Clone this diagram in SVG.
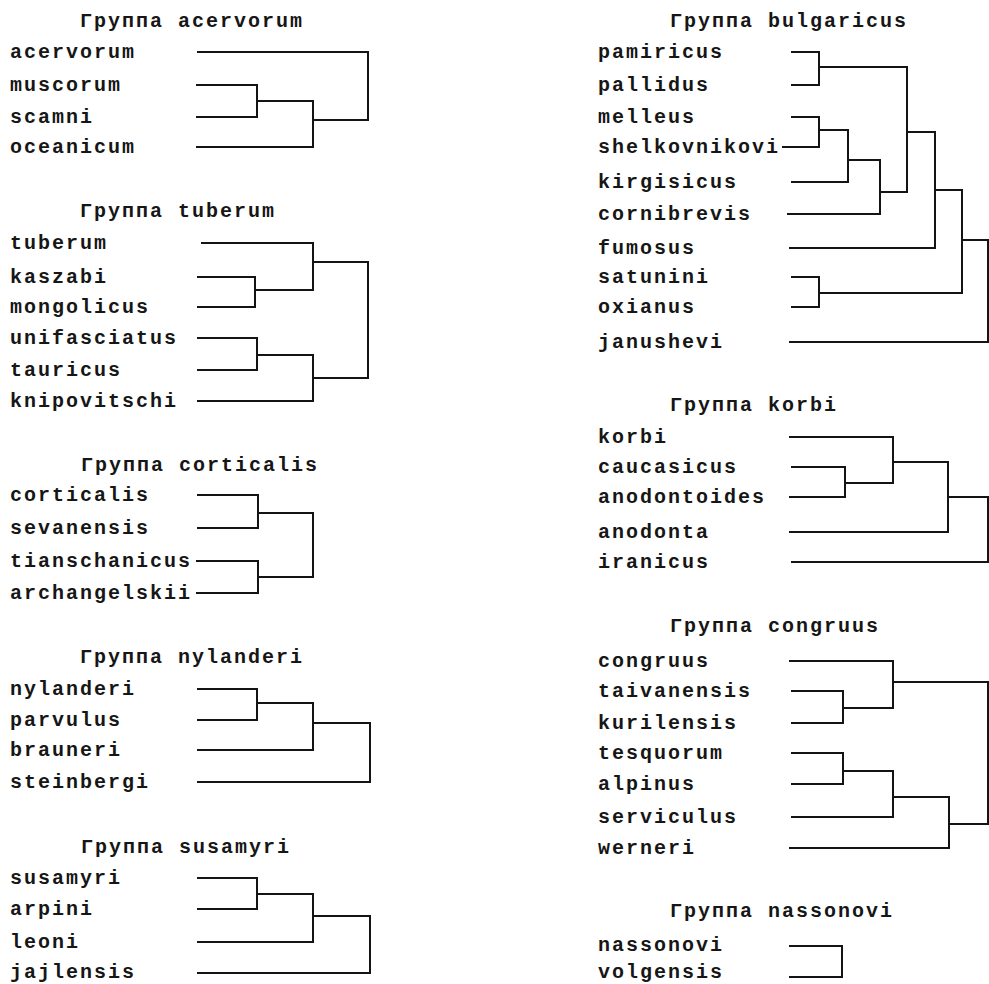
<svg xmlns="http://www.w3.org/2000/svg" width="989" height="984" viewBox="0 0 989 984">
<style>
text{font-family:"Liberation Mono","DejaVu Sans Mono",monospace;font-size:20px;font-weight:bold;letter-spacing:2px;fill:#161616}
.t{font-weight:bold}
#connectors path{fill:none;stroke:#141414;stroke-width:2;stroke-linejoin:miter;stroke-linecap:square}
</style>
<rect width="989" height="984" fill="#ffffff"/>
<g id="connectors">
<path d="M198 52 H368 V120 H313"/>
<path d="M197 85 H257 V117 H197"/>
<path d="M257 101 H313 V147 H197"/>
<path d="M202 243 H313 V290 H255"/>
<path d="M198 277 H255 V307 H198"/>
<path d="M313 262 H368 V378 H313"/>
<path d="M198 338 H257 V370 H198"/>
<path d="M257 355 H313 V401 H198"/>
<path d="M198 495 H258 V528 H198"/>
<path d="M258 513 H313 V577 H258"/>
<path d="M197 561 H258 V593 H197"/>
<path d="M198 689 H257 V720 H198"/>
<path d="M257 703 H313 V750 H198"/>
<path d="M313 723 H370 V782 H198"/>
<path d="M198 878 H257 V909 H198"/>
<path d="M257 894 H313 V942 H198"/>
<path d="M313 916 H370 V973 H198"/>
<path d="M792 52 H819 V85 H792"/>
<path d="M819 67 H907 V192 H880"/>
<path d="M792 117 H819 V147 H783"/>
<path d="M819 130 H848 V182 H792"/>
<path d="M848 160 H880 V214 H788"/>
<path d="M907 132 H935 V248 H790"/>
<path d="M935 190 H962 V293 H819"/>
<path d="M792 277 H819 V307 H792"/>
<path d="M962 240 H988 V342 H790"/>
<path d="M790 437 H893 V483 H845"/>
<path d="M792 467 H845 V497 H790"/>
<path d="M893 462 H948 V532 H790"/>
<path d="M948 497 H988 V562 H792"/>
<path d="M790 661 H893 V708 H843"/>
<path d="M792 691 H843 V723 H792"/>
<path d="M893 682 H988 V824 H949"/>
<path d="M792 753 H843 V784 H792"/>
<path d="M843 771 H893 V817 H792"/>
<path d="M893 797 H949 V848 H790"/>
<path d="M790 946 H842 V977 H790"/>
</g>
<g id="group-acervorum">
<text class="t" x="80" y="27">Группа acervorum</text>
<text x="10" y="58">acervorum</text>
<text x="10" y="91">muscorum</text>
<text x="10" y="123">scamni</text>
<text x="10" y="153">oceanicum</text>
</g>
<g id="group-tuberum">
<text class="t" x="80" y="217">Группа tuberum</text>
<text x="10" y="249">tuberum</text>
<text x="10" y="283">kaszabi</text>
<text x="10" y="313">mongolicus</text>
<text x="10" y="344">unifasciatus</text>
<text x="10" y="376">tauricus</text>
<text x="10" y="407">knipovitschi</text>
</g>
<g id="group-corticalis">
<text class="t" x="81" y="471">Группа corticalis</text>
<text x="10" y="501">corticalis</text>
<text x="10" y="534">sevanensis</text>
<text x="10" y="567">tianschanicus</text>
<text x="10" y="599">archangelskii</text>
</g>
<g id="group-nylanderi">
<text class="t" x="80" y="663">Группа nylanderi</text>
<text x="10" y="695">nylanderi</text>
<text x="10" y="726">parvulus</text>
<text x="10" y="756">brauneri</text>
<text x="10" y="788">steinbergi</text>
</g>
<g id="group-susamyri">
<text class="t" x="81" y="853">Группа susamyri</text>
<text x="10" y="884">susamyri</text>
<text x="10" y="915">arpini</text>
<text x="10" y="948">leoni</text>
<text x="10" y="978">jajlensis</text>
</g>
<g id="group-bulgaricus">
<text class="t" x="670" y="27">Группа bulgaricus</text>
<text x="598" y="58">pamiricus</text>
<text x="598" y="91">pallidus</text>
<text x="598" y="123">melleus</text>
<text x="598" y="153">shelkovnikovi</text>
<text x="598" y="188">kirgisicus</text>
<text x="598" y="220">cornibrevis</text>
<text x="598" y="254">fumosus</text>
<text x="598" y="283">satunini</text>
<text x="598" y="313">oxianus</text>
<text x="598" y="348">janushevi</text>
</g>
<g id="group-korbi">
<text class="t" x="670" y="411">Группа korbi</text>
<text x="598" y="443">korbi</text>
<text x="598" y="473">caucasicus</text>
<text x="598" y="503">anodontoides</text>
<text x="598" y="538">anodonta</text>
<text x="598" y="568">iranicus</text>
</g>
<g id="group-congruus">
<text class="t" x="670" y="632">Группа congruus</text>
<text x="598" y="667">congruus</text>
<text x="598" y="697">taivanensis</text>
<text x="598" y="729">kurilensis</text>
<text x="598" y="759">tesquorum</text>
<text x="598" y="790">alpinus</text>
<text x="598" y="823">serviculus</text>
<text x="598" y="854">werneri</text>
</g>
<g id="group-nassonovi">
<text class="t" x="670" y="917">Группа nassonovi</text>
<text x="598" y="951">nassonovi</text>
<text x="598" y="978">volgensis</text>
</g>
</svg>
